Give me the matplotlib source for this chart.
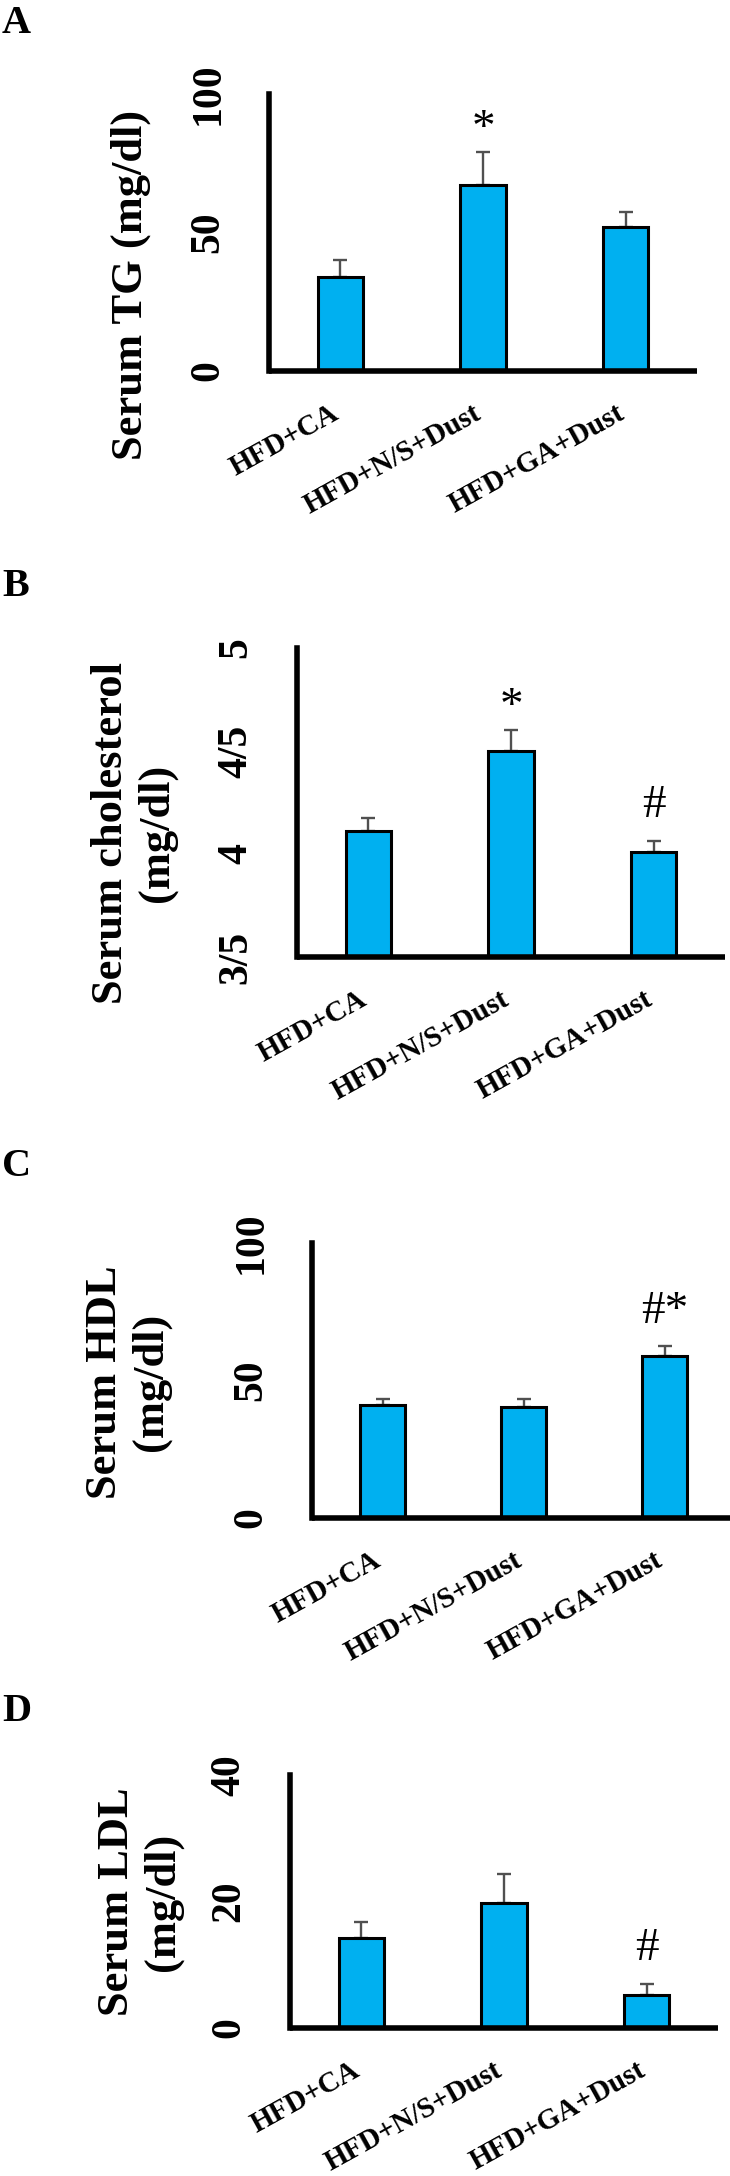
import numpy as np
import matplotlib.pyplot as plt

plt.rcParams['font.family'] = ['Liberation Serif', 'DejaVu Serif']

groups = ['HFD+CA', 'HFD+N/S+Dust', 'HFD+GA+Dust']

# panel A - triglycerides
tg_mean = [34, 67, 52]
tg_err = [6, 12, 5.5]
tg_marks = ['', '*', '']

# panel B - cholesterol
chol_mean = [4.11, 4.50, 4.01]
chol_err = [0.065, 0.10, 0.055]
chol_marks = ['', '*', '#']

# panel C - HDL
hdl_mean = [41, 40.3, 59]
hdl_err = [2.2, 2.9, 3.5]
hdl_marks = ['', '', '#*']

# panel D - LDL
ldl_mean = [14.3, 19.8, 5.2]
ldl_err = [2.5, 4.5, 1.8]
ldl_marks = ['', '', '#']

W, H = 730, 2176
fig = plt.figure(figsize=(W / 100, H / 100), dpi=100)

panels = [
    # letter, letter top, axes px (left, right, top, bottom), data, ylim, ticks, ticklabels, ylabel, label centre px
    ('A', 5, (269, 697, 94, 371), tg_mean, tg_err, tg_marks, (0, 100), [0, 50, 100], ['0', '50', '100'],
     'Serum TG (mg/dl)', (131, 285)),
    ('B', 568, (297, 725, 648, 957), chol_mean, chol_err, chol_marks, (3.5, 5), [3.5, 4, 4.5, 5],
     ['3/5', '4', '4/5', '5'], 'Serum cholesterol\n(mg/dl)', (134, 833)),
    ('C', 1148, (312, 735, 1243, 1518), hdl_mean, hdl_err, hdl_marks, (0, 100), [0, 50, 100], ['0', '50', '100'],
     'Serum HDL\n(mg/dl)', (128, 1382)),
    ('D', 1693, (290, 718, 1775, 2028), ldl_mean, ldl_err, ldl_marks, (0, 40), [0, 20, 40], ['0', '20', '40'],
     'Serum LDL\n(mg/dl)', (140, 1902)),
]

for letter, ltop, (l, r, t, b), mean, err, marks, ylim, ticks, tlabels, ylab, (lx, ly) in panels:
    fig.text(2 / W, 1 - ltop / H, letter, fontsize=29, fontweight='bold', ha='left', va='top')

    ax = fig.add_axes([l / W, 1 - b / H, (r - l) / W, (b - t) / H])
    x = np.arange(len(groups))
    ax.bar(x, np.array(mean) - ylim[0], width=0.32, bottom=ylim[0], color='#00B0F0',
           edgecolor='black', linewidth=2.2, zorder=2)
    ax.errorbar(x, mean, yerr=[np.zeros(len(err)), err], fmt='none', ecolor='#505050',
                elinewidth=1.7, capsize=5, capthick=1.7, zorder=1)

    for i, m in enumerate(marks):
        if m:
            off = 17 if '#' in m else 8
            ax.annotate(m, xy=(i, mean[i] + err[i]), xytext=(0, off), textcoords='offset points',
                        ha='center', va='baseline', fontsize=34)

    ax.set_xlim(-0.5, 2.5)
    ax.set_ylim(*ylim)
    ax.set_yticks(ticks)
    ax.set_yticklabels(tlabels, rotation=90, fontsize=30, fontweight='bold', va='center')
    ax.set_xticks(x)
    ax.set_xticklabels(groups, rotation=29, ha='right', va='baseline', rotation_mode='anchor',
                       fontsize=21, fontweight='bold')
    ax.tick_params(axis='y', length=0, pad=30)
    ax.tick_params(axis='x', length=0, pad=34)

    for s in ['top', 'right']:
        ax.spines[s].set_visible(False)
    for s in ['left', 'bottom']:
        ax.spines[s].set_linewidth(4)
    ax.spines['bottom'].set_capstyle('butt')

    ax.set_ylabel(ylab, fontsize=32, fontweight='bold', va='center', linespacing=1.15)
    ax.yaxis.set_label_coords((lx - l) / (r - l), (b - ly) / (b - t))

fig.savefig('out.png', dpi=100)
